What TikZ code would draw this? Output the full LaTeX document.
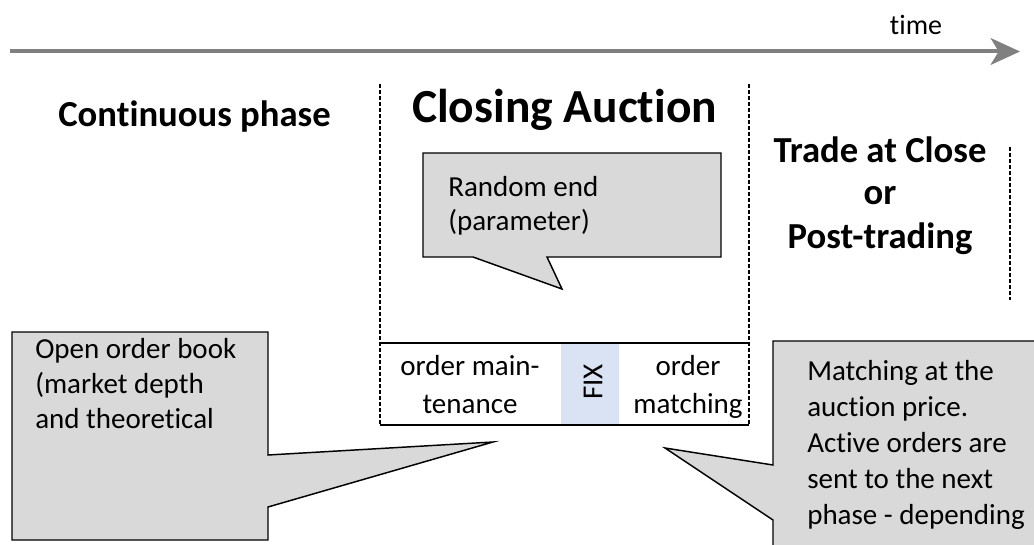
\documentclass[tikz,border=0pt]{standalone}
\usepackage{fontspec}
\setmainfont[RawFeature={-liga;-clig;-calt}]{Carlito}
\usepackage{tikz}
\usetikzlibrary{arrows.meta}
\definecolor{aucgray}{HTML}{D9D9D9}
\definecolor{aucblue}{HTML}{DAE3F3}
\definecolor{aucarrow}{HTML}{808080}

\begin{document}
\begin{tikzpicture}[x=0.75pt,y=-0.75pt,
  phase/.style={font=\bfseries\fontsize{27.5}{32.25}\selectfont,align=center,anchor=base,inner sep=0pt},
  note/.style={font=\fontsize{21.75}{26.25}\selectfont,align=left,anchor=base west,inner sep=0pt},
  step text/.style={font=\fontsize{21.75}{28.5}\selectfont,align=center,anchor=base,inner sep=0pt},
  bubble/.style={fill=aucgray,draw=black,line width=1.1pt,line join=miter},
  border/.style={line width=1.4pt,dash pattern=on 3pt off 1.5pt}]
  \useasboundingbox (0,0) rectangle (1034,545);
  \clip (0,0) rectangle (1034,545);
  % time axis
  \coordinate (t0) at (10,51.5);
  \coordinate (t1) at (1020,51.5);
  \draw[aucarrow,line width=3pt,-{Stealth[length=22pt,width=20pt,inset=6pt]}] (t0) -- (t1);
  \node[anchor=base,inner sep=0pt,font=\fontsize{21}{25}\selectfont] (time) at (916,35) {time};
  % phase borders
  \draw[border] (380,84) -- (380,425);
  \draw[border] (749,84) -- (749,425);
  \draw[border] (1010,147) -- (1010,300);
  % phase titles (base = last line)
  \node[phase] (cont) at (194.5,127) {Continuous phase};
  \node[phase,font=\bfseries\fontsize{35.6}{40}\selectfont] (auct) at (564.5,123) {Closing Auction};
  \node[phase] (post) at (880,248) {Trade at Close\\or\\Post-trading};
  % auction steps
  \fill[aucblue] (561,343) rectangle (619,425);
  \draw[line width=1.1pt] (380,343) -- (749,343) (380,425) -- (749,425);
  \node[step text] (maint) at (470,413) {order main-\\tenance};
  \node[rotate=90,inner sep=0pt,font=\fontsize{21.75}{26}\selectfont] (fix) at (593,382) {FIX};
  \node[step text] (match) at (688,413) {order\\matching};
  % callouts
  \filldraw[bubble] (423,153) -- (721,153) -- (721,257) -- (547,257) -- (562,289)
    -- (473,257) -- (423,257) -- cycle;
  \node[note,font=\fontsize{21.75}{24.75}\selectfont] (rand) at (448,230) {Random end\\(parameter)};
  \filldraw[bubble] (12,332) -- (268,332) -- (268,455) -- (493,442) -- (268,507)
    -- (268,540) -- (12,540) -- cycle;
  \node[note] (book) at (35,428) {Open order book\\(market depth\\and theoretical};
  \filldraw[bubble] (773,341) -- (1045,341) -- (1045,560) -- (773,560) -- (773,520)
    -- (665,448) -- (773,465) -- cycle;
  \node[note,font=\fontsize{21.75}{27}\selectfont] (price) at (807,524)
    {Matching at the\\auction price.\\Active orders are\\sent to the next\\phase - depending};
\end{tikzpicture}
\end{document}
